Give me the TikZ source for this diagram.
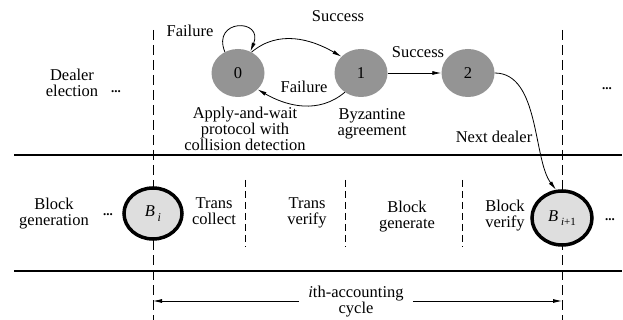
\documentclass[tikz,border=0pt]{standalone}
\usepackage{fontspec}
\setmainfont{Liberation Serif}
\usetikzlibrary{shapes.geometric, arrows.meta, positioning, calc}

\begin{document}
\begin{tikzpicture}[
  x=1pt, y=-1pt,
  every node/.style={font=\fontsize{16.5}{16}\selectfont, align=center, inner sep=1pt},
  state/.style={
    ellipse, fill=black!42, minimum width=53pt, minimum height=48pt, inner sep=0pt
  },
  block/.style={
    ellipse, draw, line width=3.5pt, fill=black!13,
    minimum width=58pt, minimum height=51pt, inner sep=0pt
  },
  arr/.style={-{Latex[length=9pt,width=4pt]}, line width=0.8pt},
  band/.style={line width=2pt},
  divider/.style={line width=0.9pt, dash pattern=on 10pt off 5pt},
  sep/.style={line width=0.9pt, dash pattern=on 7pt off 4pt},
  dots/.style={font=\fontsize{13}{13}\selectfont\bfseries, inner sep=0pt},
]
  \useasboundingbox (0,0) rectangle (623,320);

  % Bands and cycle borders
  \draw[band] (14,155.5) -- (622,155.5);
  \draw[band] (14,270.5) -- (622,270.5);
  \draw[divider] (153,30) -- (153,320);
  \draw[divider] (562,30) -- (562,320);
  \draw[sep] (245,180) -- (245,247);
  \draw[sep] (345,180) -- (345,247);
  \draw[sep] (462,180) -- (462,247);

  % Dealer election states
  \node[state] (s0) at (238,73) {0};
  \node[state] (s1) at (361,73) {1};
  \node[state] (s2) at (468,73) {2};

  \draw[arr] (s0.122) .. controls +(112:36pt) and +(68:36pt) .. (s0.60);
  \draw[arr] (s0.57) to[out=40, in=150] (s1.140);
  \draw[arr] (s1.230) to[out=-140, in=-30] (s0.-40);
  \draw[arr] (s1) -- (s2);

  \node (fail0) at (190,31) {Failure};
  \node (succ0) at (338,16) {Success};
  \node (fail1) at (304,87) {Failure};
  \node (succ1) at (418,52) {Success};
  \node (apply) at (245,129) {Apply-and-wait\\protocol with\\collision detection};
  \node (byz) at (372,124) {Byzantine\\agreement};
  \node (next) at (494,137) {Next dealer};

  \node (dealer) at (72,83) {Dealer\\election};
  \node[dots] (dl) at (116,92) {...};
  \node[dots] (dr) at (607,89) {...};

  % Block generation
  \node[block] (bi) at (153,213.5) {\textit{B}\,\raisebox{-0.6ex}{\fontsize{12}{12}\selectfont\textit{i}}};
  \node[block, minimum width=60pt, minimum height=54pt] (bii) at (562,218) {\textit{B}\,\raisebox{-0.6ex}{\fontsize{11}{11}\selectfont\textit{i}+1}};

  \draw[arr] (s2.east) .. controls +(45,0) and +(-23,-30) .. (bii.102);

  \node (gen) at (54,214) {Block\\generation};
  \node[dots] (bl) at (108,215) {...};
  \node[dots] (br) at (610,220) {...};
  \node (tc) at (214,211) {Trans\\collect};
  \node (tv) at (307,213) {Trans\\verify};
  \node (bg) at (407,217) {Block\\generate};
  \node (bv) at (505,216) {Block\\verify};

  % Accounting cycle
  \node[inner xsep=9pt] (cyc) at (356,302) {\textit{i}th-accounting\\cycle};
  \coordinate (lend) at (153,301);
  \coordinate (rend) at (562,301);
  \draw[arr] (cyc.west |- lend) -- (lend);
  \draw[arr] (cyc.east |- rend) -- (rend);
\end{tikzpicture}
\end{document}
